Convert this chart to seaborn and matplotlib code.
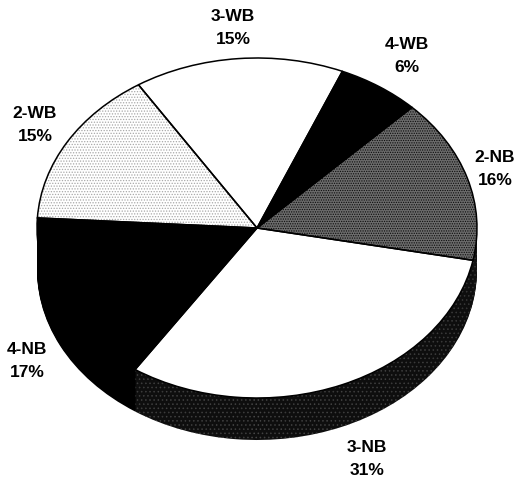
import matplotlib
matplotlib.use('Agg')
import matplotlib.pyplot as plt
import seaborn as sns

categories = ['3-WB', '4-WB', '2-NB', '3-NB', '4-NB', '2-WB']
shares = [15.4, 6.1, 15.6, 31.3, 16.6, 15.0]

face_colors = ['white', 'black', '#6c6c6c', 'white', 'black', 'white']
hatch_colors = ['white', 'black', '#0c0c0c', 'white', 'black', '#a8a8a8']
hatches = [None, None, '.......', None, None, '......']
side_colors = ['black', 'black', '#111111', '#0e0e0e', 'black', 'black']
side_hatch_colors = ['black', 'black', '#484848', '#484848', 'black', 'black']
side_hatches = [None, None, '....', '....', None, None]

sns.set_theme(style='white')
plt.rcParams['font.family'] = ['Liberation Sans', 'DejaVu Sans']
plt.rcParams['hatch.linewidth'] = 0.6

W, H = 520, 480
cx, cy = 257, 228
rx, ry = 220, 170
depth = 42
start = 122.6

fig = plt.figure(figsize=(W / 100, H / 100), dpi=100, facecolor='white')
ax = fig.add_axes([0, 0, 1, 1])

# extruded side: same pie stacked downwards, then the top face
for d in range(depth, 0, -1):
    side, _ = ax.pie(shares, colors=side_colors, startangle=start, counterclock=False,
                     center=(0, -d / ry), wedgeprops={'linewidth': 0})
    for w, ec, h in zip(side, side_hatch_colors, side_hatches):
        w.set_edgecolor(ec)
        w.set_hatch(h)

wedges, _ = ax.pie(shares, colors=face_colors, startangle=start, counterclock=False,
                   wedgeprops={'linewidth': 0})
for w, ec, h in zip(wedges, hatch_colors, hatches):
    w.set_edgecolor(ec)
    w.set_hatch(h)

ax.pie(shares, startangle=start, counterclock=False,
       wedgeprops={'facecolor': 'none', 'edgecolor': 'black', 'linewidth': 1.1})

ax.set_aspect('auto')
ax.set_xlim(-cx / rx, (W - cx) / rx)
ax.set_ylim((cy - H) / ry, cy / ry)
ax.axis('off')

# labels placed in pixels from the top left
label_px = [(233, 28), (407, 56), (35, 125), (495, 169), (367, 459), (27, 361)]
label_names = ['3-WB', '4-WB', '2-WB', '2-NB', '3-NB', '4-NB']
for name, (px, py) in zip(label_names, label_px):
    value = shares[categories.index(name)]
    ax.text(px / W, 1 - py / H, f'{name}\n{value:.0f}%', transform=ax.transAxes,
            ha='center', va='center', fontsize=12.5, fontweight='bold',
            color='black', linespacing=1.65)

fig.savefig('out.png', dpi=100, facecolor='white')
